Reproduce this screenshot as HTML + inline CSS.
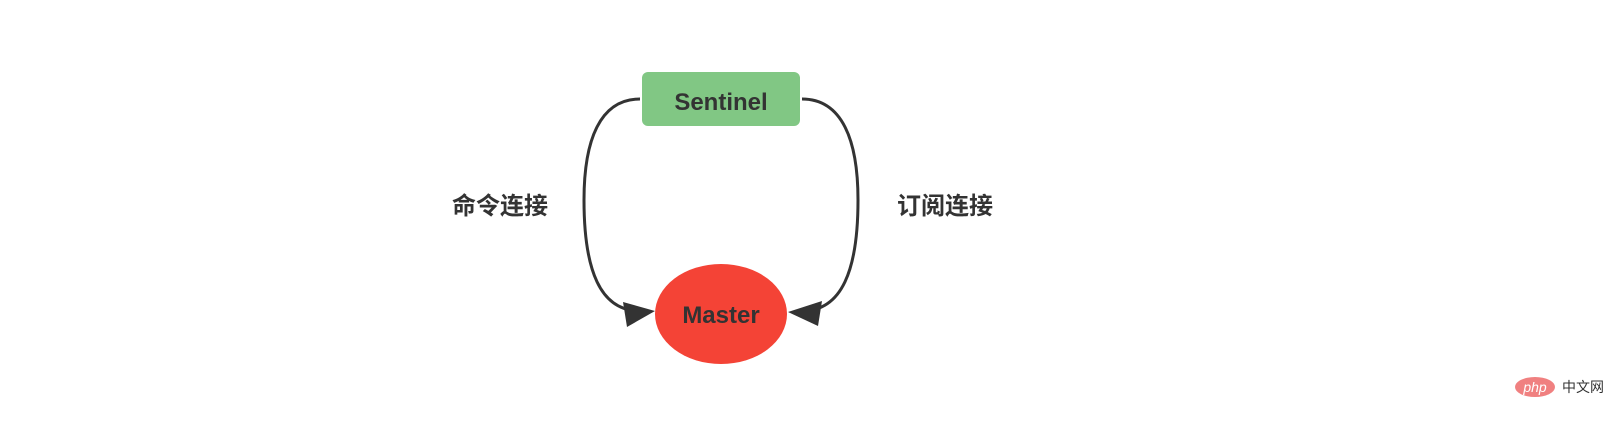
<!DOCTYPE html>
<html><head><meta charset="utf-8"><style>
body{margin:0;background:#fff;width:1614px;height:430px;overflow:hidden}
svg{display:block}
</style></head><body>
<svg width="1614" height="430" viewBox="0 0 1614 430" font-family="'Liberation Sans','Noto Sans CJK SC',sans-serif">
<rect x="642" y="72" width="158" height="54" rx="6" fill="#81c784"/>
<text x="721" y="110" text-anchor="middle" font-size="24" font-weight="bold" fill="#333">Sentinel</text>
<ellipse cx="721" cy="314" rx="66" ry="50" fill="#f44336"/>
<text x="721" y="323" text-anchor="middle" font-size="24" font-weight="bold" fill="#333">Master</text>
<path d="M640 99 C600 99 584 140 584 200 C584 270 600 311 640 311" fill="none" stroke="#333" stroke-width="3"/>
<path d="M802 99 C842 99 858 140 858 200 C858 270 842 311 802 311" fill="none" stroke="#333" stroke-width="3"/>
<polygon points="655,311 623,302 627,327" fill="#333"/>
<polygon points="788,312 822,301 818,326" fill="#333"/>
<text x="500" y="214" text-anchor="middle" font-size="24" font-weight="bold" fill="#333">命令连接</text>
<text x="945" y="214" text-anchor="middle" font-size="24" font-weight="bold" fill="#333">订阅连接</text>
<ellipse cx="1535" cy="387" rx="20" ry="10" fill="#f08080"/>
<text x="1535" y="392" text-anchor="middle" font-size="14" font-style="italic" fill="#fff">php</text>
<text x="1562" y="392" font-size="14" fill="#333">中文网</text>
</svg>
</body></html>
